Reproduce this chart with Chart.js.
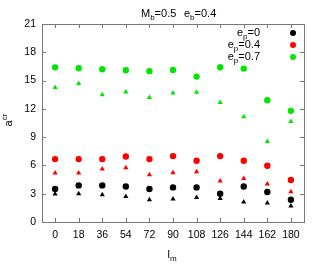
<!DOCTYPE html>
<html>
<head>
<meta charset="utf-8">
<script src="https://cdn.jsdelivr.net/npm/chart.js@4"></script>
<style>
  body { margin: 0; background: #fff; }
  #c { display: block; }
</style>
</head>
<body>
<canvas id="c" width="322" height="273"></canvas>
<script>
// valores
const lm = [0, 18, 36, 54, 72, 90, 108, 126, 144, 162, 180];
const yTicks = [0, 3, 6, 9, 12, 15, 18, 21];

// círculos (legenda) e triângulos (sem legenda)
const circ0 = [3.5, 3.88, 3.88, 3.77, 3.5, 3.67, 3.67, 3.0, 3.77, 3.18, 2.36];
const circ04 = [6.67, 6.67, 6.67, 6.95, 6.67, 6.99, 6.49, 6.99, 6.49, 5.96, 4.45];
const circ07 = [16.4, 16.3, 16.2, 16.1, 16.0, 16.13, 15.42, 16.42, 16.27, 12.92, 11.79];
const tri0 = [2.97, 3.0, 2.89, 2.71, 2.36, 2.44, 2.61, 2.5, 2.12, 2.01, 1.69];
const tri04 = [5.19, 5.19, 5.61, 5.75, 5.0, 5.22, 5.33, 4.34, 4.62, 4.03, 3.21];
const tri07 = [14.26, 14.7, 13.5, 13.8, 13.2, 13.67, 13.77, 12.67, 11.15, 8.54, 10.66];

const legendLabels = ['0', '0.4', '0.7'];
const cores = ['#000000', '#ff0000', '#00e600'];
const FONT = '"Liberation Sans", Arial, sans-serif';

function pontos(vals) {
    return vals.map((v, i) => ({ x: lm[i], y: v }));
}

function serie(vals, cor, forma, raio) {
    return {
        data: pontos(vals),
        backgroundColor: cor,
        borderColor: cor,
        borderWidth: 0,
        pointStyle: forma,
        pointRadius: raio,
        showLine: false
    };
}

// texto com subscrito / sobrescrito
function textoSub(ctx, base, sub, resto, x, y, alinhar, sup) {
    ctx.font = '11px ' + FONT;
    const wb = ctx.measureText(base).width;
    ctx.font = '8px ' + FONT;
    const ws = ctx.measureText(sub).width;
    ctx.font = '11px ' + FONT;
    const wr = ctx.measureText(resto).width;
    const total = wb + ws + wr;
    let x0 = x;
    if (alinhar === 'right') x0 = x - total;
    if (alinhar === 'center') x0 = x - total / 2;
    ctx.textAlign = 'left';
    ctx.textBaseline = 'alphabetic';
    ctx.fillText(base, x0, y);
    ctx.font = '8px ' + FONT;
    ctx.fillText(sub, x0 + wb, sup ? y - 5 : y + 3);
    ctx.font = '11px ' + FONT;
    ctx.fillText(resto, x0 + wb + ws, y);
}

const extras = {
    id: 'extras',
    afterDraw(chart) {
        const ctx = chart.ctx;
        const a = chart.chartArea;
        const xs = chart.scales.x, ys = chart.scales.y;
        ctx.save();
        // moldura
        ctx.strokeStyle = '#777';
        ctx.lineWidth = 1;
        ctx.strokeRect(a.left + 0.5, a.top + 0.5, a.right - a.left, a.bottom - a.top);
        // marcas para dentro
        ctx.beginPath();
        lm.forEach(v => {
            const px = Math.round(xs.getPixelForValue(v)) + 0.5;
            ctx.moveTo(px, a.bottom); ctx.lineTo(px, a.bottom - 4);
            ctx.moveTo(px, a.top); ctx.lineTo(px, a.top + 4);
        });
        yTicks.forEach(v => {
            const py = Math.round(ys.getPixelForValue(v)) + 0.5;
            ctx.moveTo(a.left, py); ctx.lineTo(a.left + 4, py);
            ctx.moveTo(a.right, py); ctx.lineTo(a.right - 4, py);
        });
        ctx.stroke();

        ctx.fillStyle = '#000';
        // título
        textoSub(ctx, 'M', 'b', '=0.5', 141, 17, 'left');
        textoSub(ctx, 'e', 'b', '=0.4', 184, 17, 'left');
        // rótulos dos eixos
        textoSub(ctx, 'l', 'm', '', 172, 258, 'center');
        ctx.save();
        ctx.translate(12, 120);
        ctx.rotate(-Math.PI / 2);
        textoSub(ctx, 'a', 'cr', '', 0, 0, 'center', true);
        ctx.restore();
        // legenda
        legendLabels.forEach((lab, i) => {
            const y = 36 + i * 12;
            ctx.fillStyle = '#000';
            textoSub(ctx, 'e', 'p', '=' + lab, 260, y, 'right');
            ctx.fillStyle = cores[i];
            ctx.beginPath();
            ctx.arc(293, y - 3, 3, 0, Math.PI * 2);
            ctx.fill();
        });
        ctx.restore();
    }
};

new Chart(document.getElementById('c'), {
    type: 'scatter',
    data: {
        datasets: [
            serie(circ0, cores[0], 'circle', 3.2),
            serie(circ04, cores[1], 'circle', 3.2),
            serie(circ07, cores[2], 'circle', 3.2),
            serie(tri0, cores[0], 'triangle', 3),
            serie(tri04, cores[1], 'triangle', 3),
            serie(tri07, cores[2], 'triangle', 3)
        ]
    },
    options: {
        responsive: false,
        animation: false,
        layout: { padding: { top: 24, right: 18, left: 0, bottom: 0 } },
        plugins: {
            legend: { display: false },
            tooltip: { enabled: false }
        },
        scales: {
            x: {
                type: 'linear',
                min: -10,
                max: 190,
                afterBuildTicks: s => { s.ticks = lm.map(v => ({ value: v })); },
                afterFit: s => { s.height = 51; },
                grid: { display: false, drawTicks: false },
                border: { display: false },
                ticks: {
                    color: '#000',
                    font: { family: FONT, size: 10.5 },
                    padding: 7,
                    maxRotation: 0,
                    autoSkip: false
                }
            },
            y: {
                min: 0,
                max: 21,
                afterBuildTicks: s => { s.ticks = yTicks.map(v => ({ value: v })); },
                afterFit: s => { s.width = 42; },
                grid: { display: false, drawTicks: false },
                border: { display: false },
                ticks: {
                    color: '#000',
                    font: { family: FONT, size: 10.5 },
                    padding: 6
                }
            }
        }
    },
    plugins: [extras]
});
</script>
</body>
</html>
